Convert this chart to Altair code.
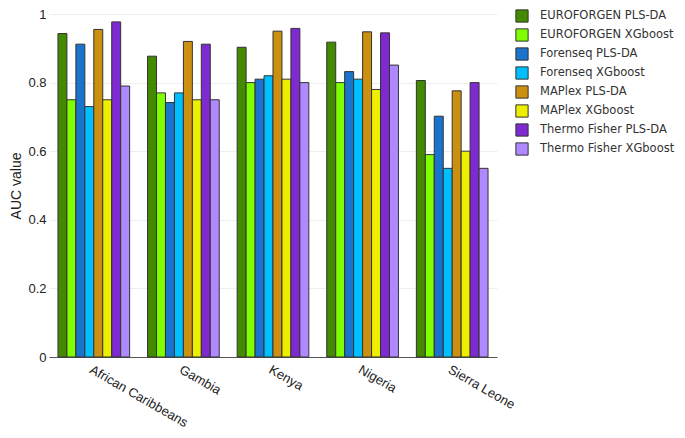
import altair as alt
import pandas as pd

countries = ["African Caribbeans", "Gambia", "Kenya", "Nigeria", "Sierra Leone"]
series = ["EUROFORGEN PLS-DA", "EUROFORGEN XGboost", "Forenseq PLS-DA", "Forenseq XGboost",
          "MAPlex PLS-DA", "MAPlex XGboost", "Thermo Fisher PLS-DA", "Thermo Fisher XGboost"]
colors = ["#438a00", "#80ff00", "#1a73cc", "#00bfff", "#cc9010", "#eeee00", "#7f2ad0", "#b088ff"]

values = {
    "African Caribbeans": [0.943, 0.75, 0.912, 0.73, 0.955, 0.75, 0.977, 0.79],
    "Gambia":             [0.877, 0.77, 0.742, 0.77, 0.920, 0.75, 0.912, 0.75],
    "Kenya":              [0.903, 0.80, 0.810, 0.82, 0.950, 0.81, 0.958, 0.80],
    "Nigeria":            [0.918, 0.80, 0.832, 0.81, 0.948, 0.78, 0.945, 0.851],
    "Sierra Leone":       [0.806, 0.59, 0.702, 0.55, 0.776, 0.60, 0.800, 0.55],
}

rows = []
for c in countries:
    for s, v in zip(series, values[c]):
        rows.append({"country": c, "series": s, "auc": v})
df = pd.DataFrame(rows)

chart = alt.Chart(df).mark_bar(stroke="#333333", strokeWidth=1).encode(
    x=alt.X("country:N", sort=countries, title=None,
            scale=alt.Scale(paddingInner=0.2, paddingOuter=0.1),
            axis=alt.Axis(labelAngle=30, labelAlign="left", labelBaseline="top",
                          labelFont="Liberation Sans", labelFontSize=13, labelColor="#222",
                          ticks=False, domainColor="#555", labelPadding=6, labelLimit=300)),
    xOffset=alt.XOffset("series:N", sort=series, scale=alt.Scale(paddingInner=0, paddingOuter=0)),
    y=alt.Y("auc:Q", title="AUC value", scale=alt.Scale(domain=[0, 1], nice=False),
            axis=alt.Axis(values=[0, 0.2, 0.4, 0.6, 0.8, 1], labelExpr="datum.value == 0 ? '0' : format(datum.value, '.1~f')",
                          labelFont="Liberation Sans", labelFontSize=13, labelColor="#222",
                          titleFont="Liberation Sans", titleFontSize=14, titleFontWeight="normal",
                          titleColor="#222", domain=False, ticks=False, gridColor="#eeeeee",
                          labelPadding=3, titlePadding=4)),
    color=alt.Color("series:N", sort=series, scale=alt.Scale(domain=series, range=colors),
                    legend=alt.Legend(title=None, symbolType="square", symbolSize=150,
                                      symbolStrokeColor="#333", symbolStrokeWidth=1,
                                      labelFont="DejaVu Sans", labelFontSize=11.5, labelColor="#333",
                                      labelOffset=11, rowPadding=1, padding=0,
                                      orient="none", legendX=466, legendY=-5)),
).properties(
    width=448, height=343,
    padding={"left": 41, "top": 6, "right": 180, "bottom": 73},
    autosize=alt.AutoSizeParams(type="none"),
).configure_view(stroke=None)

chart.save("out.html", embed_options={"renderer": "svg", "actions": False})
